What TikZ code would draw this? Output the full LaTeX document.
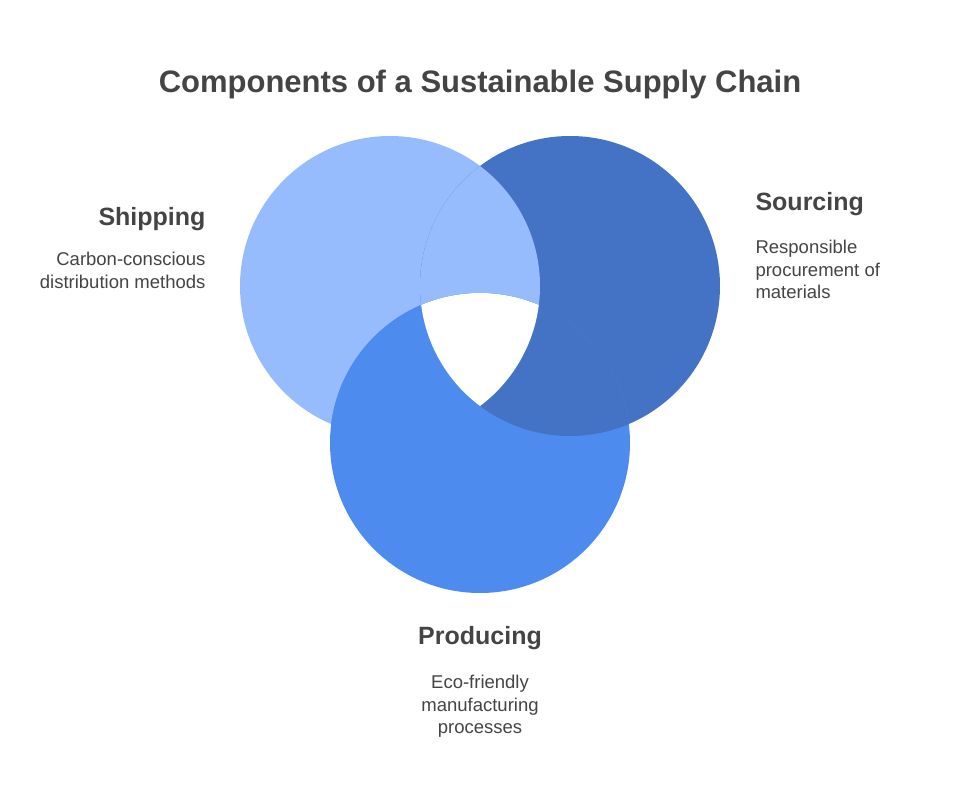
\documentclass[tikz,border=0pt]{standalone}
\usepackage{fontspec}
\setmainfont{Liberation Sans}
\definecolor{lightb}{HTML}{97BCFD}
\definecolor{darkb}{HTML}{4472C4}
\definecolor{medb}{HTML}{4D8CEE}
\definecolor{txt}{HTML}{444444}
\begin{document}
\begin{tikzpicture}[x=1pt,y=-1pt,
  ttl/.style={font=\bfseries\fontsize{31}{36}\selectfont,text=txt},
  hd/.style={font=\bfseries\fontsize{25}{30}\selectfont,text=txt},
  ds/.style={font=\fontsize{18.5}{22.5}\selectfont,text=txt}]
\useasboundingbox (0,0) rectangle (962,789);
\def\cA{(390,286) circle (150)}
\def\cB{(570,286) circle (150)}
\def\cC{(480,443) circle (150)}
\fill[lightb] \cA;
\fill[darkb] \cB;
\fill[medb] \cC;
\begin{scope}\clip \cA; \fill[lightb] \cB; \end{scope}
\begin{scope}\clip \cB; \fill[darkb] \cC; \end{scope}
\begin{scope}\clip \cC; \fill[medb] \cA; \end{scope}
\begin{scope}\clip \cA; \clip \cB; \fill[white] \cC; \end{scope}
\node[ttl] (title) at (480,84) {Components of a Sustainable Supply Chain};
\node[hd,anchor=east] (ship) at (209,219) {Shipping};
\node[ds,anchor=north east,align=right] (shipd) at (209,249) {Carbon-conscious\\distribution methods};
\node[hd,anchor=west] (src) at (752,204) {Sourcing};
\node[ds,anchor=north west,align=left] (srcd) at (752,237) {Responsible\\procurement of\\materials};
\node[hd] (prod) at (480,638) {Producing};
\node[ds,anchor=north,align=center] (prodd) at (480,672) {Eco-friendly\\manufacturing\\processes};
\end{tikzpicture}
\end{document}
